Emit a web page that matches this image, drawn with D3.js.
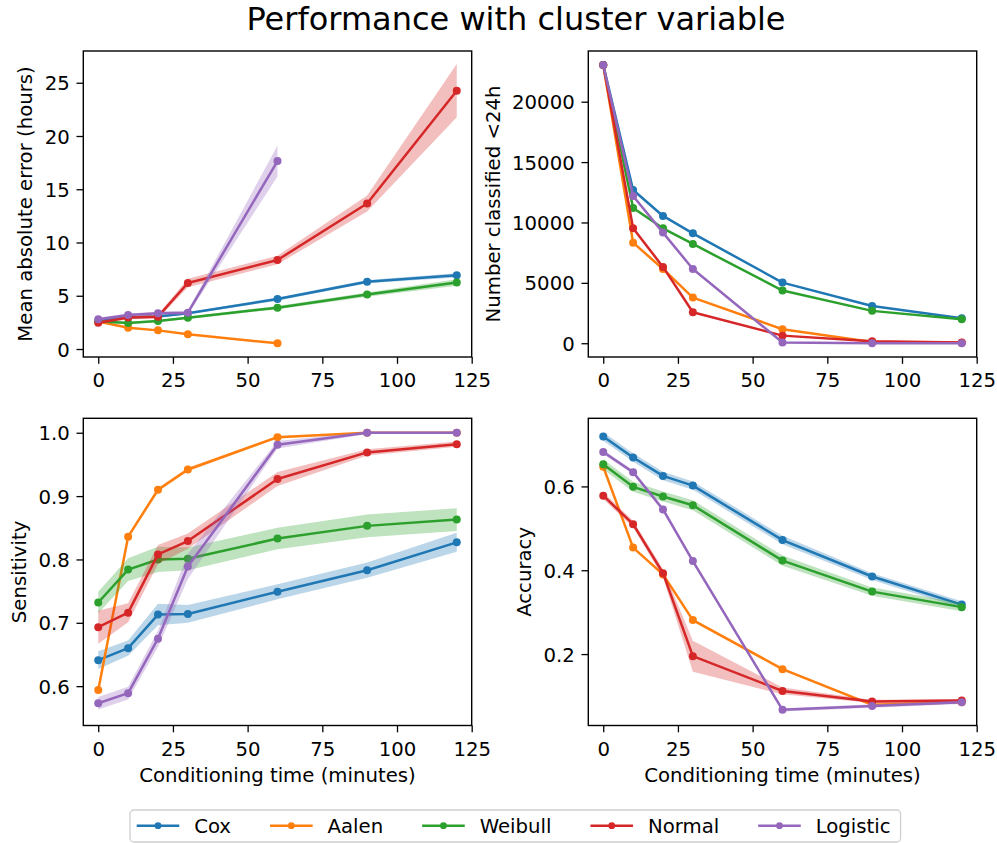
<!DOCTYPE html>
<html><head><meta charset="utf-8">
<script src="https://cdn.jsdelivr.net/npm/d3@7"></script>
<style>body{margin:0;background:#fff} svg{display:block} text{font-family:"DejaVu Sans",sans-serif;fill:#000}</style>
</head><body><svg id="c" width="997" height="843"></svg>
<script>
// ---------- data ----------
const times = [0, 10, 20, 30, 60, 90, 120];
const models = ["Cox", "Aalen", "Weibull", "Normal", "Logistic"];
const colors = ["#1f77b4", "#ff7f0e", "#2ca02c", "#d62728", "#9467bd"];
const xTicks = [0, 25, 50, 75, 100, 125];

const maeMean = {
  Cox:      [2.62, 2.98, 3.05, 3.35, 4.69, 6.32, 6.92],
  Aalen:    [2.58, 2.00, 1.75, 1.38, 0.53, null, null],
  Weibull:  [2.60, 2.45, 2.63, 2.94, 3.88, 5.11, 6.25],
  Normal:   [2.47, 2.95, 3.04, 6.20, 8.36, 13.66, 24.25],
  Logistic: [2.79, 3.19, 3.35, 3.41, 17.65, null, null]
};
const maeCI = {
  Cox:      [0.10, 0.10, 0.10, 0.10, 0.15, 0.15, 0.20],
  Aalen:    [0.05, 0.05, 0.05, 0.05, 0.05, null, null],
  Weibull:  [0.10, 0.10, 0.10, 0.12, 0.15, 0.20, 0.30],
  Normal:   [0.15, 0.15, 0.20, 0.40, 0.40, 0.75, 2.50],
  Logistic: [0.15, 0.15, 0.15, 0.20, 1.45, null, null]
};

const countMean = {
  Cox:      [23040, 12690, 10540, 9100, 5020, 3090, 2070],
  Aalen:    [23040, 8330, 6150, 3780, 1160, 110, 30],
  Weibull:  [23040, 11200, 9520, 8220, 4360, 2680, 1990],
  Normal:   [23040, 9520, 6320, 2570, 630, 170, 55],
  Logistic: [23040, 12190, 9160, 6150, 60, 5, 2]
};

const sensMean = {
  Cox:      [0.641, 0.660, 0.713, 0.714, 0.749, 0.783, 0.827],
  Aalen:    [0.594, 0.836, 0.910, 0.942, 0.993, 1.000, 1.000],
  Weibull:  [0.732, 0.784, 0.800, 0.801, 0.833, 0.853, 0.863],
  Normal:   [0.693, 0.716, 0.808, 0.829, 0.927, 0.969, 0.982],
  Logistic: [0.573, 0.589, 0.675, 0.789, 0.981, 1.000, 1.000]
};
const sensCI = {
  Cox:      [0.014, 0.012, 0.017, 0.014, 0.012, 0.012, 0.015],
  Aalen:    [0.003, 0.003, 0.003, 0.003, 0.002, 0.000, 0.000],
  Weibull:  [0.017, 0.018, 0.020, 0.018, 0.017, 0.018, 0.018],
  Normal:   [0.026, 0.015, 0.015, 0.012, 0.011, 0.005, 0.004],
  Logistic: [0.010, 0.010, 0.013, 0.020, 0.006, 0.002, 0.002]
};

const accMean = {
  Cox:      [0.719, 0.669, 0.625, 0.602, 0.472, 0.385, 0.318],
  Aalen:    [0.647, 0.454, 0.390, 0.281, 0.164, 0.079, 0.085],
  Weibull:  [0.653, 0.599, 0.576, 0.555, 0.423, 0.349, 0.312],
  Normal:   [0.578, 0.510, 0.393, 0.195, 0.112, 0.087, 0.089],
  Logistic: [0.682, 0.634, 0.545, 0.422, 0.067, 0.076, 0.085]
};
const accCI = {
  Cox:      [0.010, 0.010, 0.010, 0.010, 0.010, 0.008, 0.008],
  Aalen:    [0.003, 0.003, 0.003, 0.003, 0.003, 0.003, 0.003],
  Weibull:  [0.012, 0.012, 0.012, 0.012, 0.012, 0.010, 0.010],
  Normal:   [0.008, 0.008, 0.010, 0.037, 0.008, 0.004, 0.004],
  Logistic: [0.005, 0.005, 0.005, 0.005, 0.004, 0.004, 0.004]
};

const maeTicks = [0, 5, 10, 15, 20, 25];
const countTicks = [0, 5000, 10000, 15000, 20000];
const sensTicks = [0.6, 0.7, 0.8, 0.9, 1.0];
const accTicks = [0.2, 0.4, 0.6];

const maeDomain = [-0.75, 27.98];
const countDomain = [-1140, 24200];
const sensDomain = [0.5379, 1.0228];
const accDomain = [0.0296, 0.7625];
const xDomain = [-5, 125];

// ---------- layout ----------
const FS = 19.7;
const svg = d3.select("#c");
const cols = [[83.3, 471.7], [588.3, 976.7]];
const rows = [[51, 357], [418.3, 725.5]];

const panels = [
  {mean: maeMean, ci: maeCI, ticks: maeTicks, dom: maeDomain, fmt: d3.format("d"), ylabel: "Mean absolute error (hours)", c: 0, r: 0, xlabel: false},
  {mean: countMean, ci: null, ticks: countTicks, dom: countDomain, fmt: d3.format("d"), ylabel: "Number classified <24h", c: 1, r: 0, xlabel: false},
  {mean: sensMean, ci: sensCI, ticks: sensTicks, dom: sensDomain, fmt: d3.format(".1f"), ylabel: "Sensitivity", c: 0, r: 1, xlabel: true},
  {mean: accMean, ci: accCI, ticks: accTicks, dom: accDomain, fmt: d3.format(".1f"), ylabel: "Accuracy", c: 1, r: 1, xlabel: true}
];

panels.forEach(p => {
  const [x0, x1] = cols[p.c], [y0, y1] = rows[p.r];
  const x = d3.scaleLinear().domain(xDomain).range([x0, x1]);
  const y = d3.scaleLinear().domain(p.dom).range([y1, y0]);
  const g = svg.append("g");

  const clipId = "clip" + p.c + p.r;
  g.append("clipPath").attr("id", clipId).append("rect")
    .attr("x", x0).attr("y", y0).attr("width", x1 - x0).attr("height", y1 - y0);
  const plot = g.append("g").attr("clip-path", `url(#${clipId})`);

  models.forEach((m, i) => {
    const pts = times.map((t, k) => ({t, v: p.mean[m][k], e: p.ci ? p.ci[m][k] : 0}))
      .filter(d => d.v != null);
    if (p.ci) {
      plot.append("path").datum(pts)
        .attr("fill", colors[i]).attr("fill-opacity", 0.3).attr("stroke", "none")
        .attr("d", d3.area().x(d => x(d.t)).y0(d => y(d.v - (d.e || 0))).y1(d => y(d.v + (d.e || 0))));
    }
    plot.append("path").datum(pts)
      .attr("fill", "none").attr("stroke", colors[i]).attr("stroke-width", 2.5)
      .attr("stroke-linejoin", "round")
      .attr("d", d3.line().x(d => x(d.t)).y(d => y(d.v)));
    plot.selectAll(null).data(pts).enter().append("circle")
      .attr("cx", d => x(d.t)).attr("cy", d => y(d.v)).attr("r", 4)
      .attr("fill", colors[i]);
  });

  // axes
  const xa = g.append("g").attr("transform", `translate(0,${y1})`)
    .call(d3.axisBottom(x).tickValues(xTicks).tickSize(6.8).tickPadding(6.8).tickFormat(d3.format("d")));
  const ya = g.append("g").attr("transform", `translate(${x0},0)`)
    .call(d3.axisLeft(y).tickValues(p.ticks).tickSize(6.8).tickPadding(6.8).tickFormat(p.fmt));
  [xa, ya].forEach(a => {
    a.select(".domain").remove();
    a.selectAll(".tick line").attr("stroke", "#000").attr("stroke-width", 1.3);
    a.selectAll(".tick text").attr("font-size", FS).attr("font-family", "DejaVu Sans").attr("fill", "#000");
  });
  xa.selectAll(".tick text").attr("dy", null).attr("y", 30).attr("dominant-baseline", "alphabetic");
  ya.selectAll(".tick text").attr("dy", "0.36em");

  // frame
  g.append("rect").attr("x", x0).attr("y", y0).attr("width", x1 - x0).attr("height", y1 - y0)
    .attr("fill", "none").attr("stroke", "#000").attr("stroke-width", 1.4);

  // y label
  let minX = Infinity;
  ya.selectAll(".tick text").each(function () {
    const b = this.getBBox();
    minX = Math.min(minX, b.x);
  });
  const lx = x0 + minX - 7.8 - 4.6;
  const cy = (y0 + y1) / 2;
  g.append("text").attr("transform", `translate(${lx},${cy}) rotate(-90)`)
    .attr("text-anchor", "middle").attr("font-size", FS).text(p.ylabel);

  if (p.xlabel) {
    g.append("text").attr("x", (x0 + x1) / 2).attr("y", y1 + 56.5)
      .attr("text-anchor", "middle").attr("font-size", FS).text("Conditioning time (minutes)");
  }
});

// title
svg.append("text").attr("x", 516).attr("y", 30).attr("text-anchor", "middle")
  .attr("font-size", 32).text("Performance with cluster variable");

// legend
const leg = svg.append("g");
const box = leg.append("rect").attr("fill", "#fff").attr("fill-opacity", 0.8)
  .attr("stroke", "#d0d0d0").attr("stroke-width", 1.3).attr("rx", 4);
let lx = 136.7;
const ly = 825.7;
models.forEach((m, i) => {
  leg.append("line").attr("x1", lx).attr("x2", lx + 42.6).attr("y1", ly).attr("y2", ly)
    .attr("stroke", colors[i]).attr("stroke-width", 2.4);
  leg.append("circle").attr("cx", lx + 21.3).attr("cy", ly).attr("r", 3.4).attr("fill", colors[i]);
  const t = leg.append("text").attr("x", lx + 57.5).attr("y", ly).attr("dy", "0.36em")
    .attr("font-size", FS).text(m);
  lx = lx + 57.5 + t.node().getComputedTextLength() + 39;
});
box.attr("x", 130).attr("y", 810).attr("width", (lx - 39 + 10) - 130).attr("height", 32);
</script></body></html>
